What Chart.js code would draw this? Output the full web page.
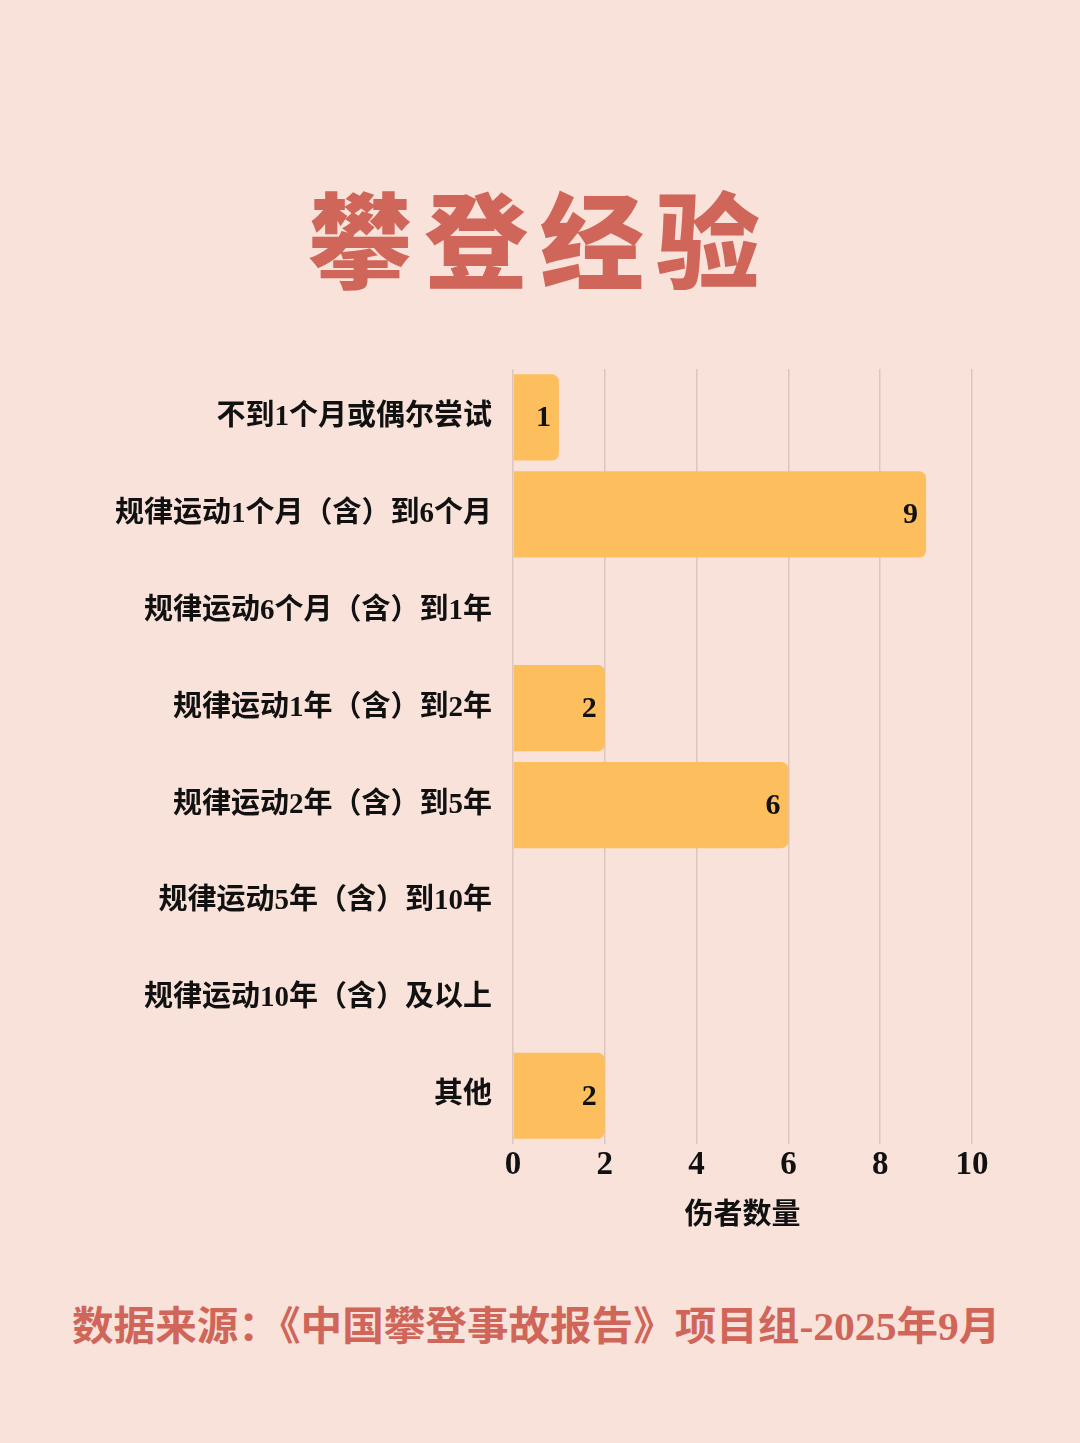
<!DOCTYPE html>
<html lang="zh">
<head>
<meta charset="utf-8">
<script src="https://cdn.jsdelivr.net/npm/chart.js@4"></script>
<style>
  html, body { margin: 0; padding: 0; }
  body { width: 1080px; height: 1443px; background: #F8E2D9; position: relative; overflow: hidden; }
  .titulo {
    position: absolute; left: 0; width: 1080px; top: 184px; text-align: center;
    font-family: "Noto Sans CJK SC", sans-serif; font-weight: 900; font-size: 104px;
    color: #D0655A; letter-spacing: 12px; line-height: 1; margin: 0;
  }
  .fonte {
    position: absolute; left: 72px; top: 1307px; white-space: nowrap;
    font-family: "Liberation Serif", "Noto Sans CJK SC", serif; font-weight: 700; font-size: 40px;
    color: #D0655A; line-height: 1; transform-origin: left top;
  }
  #grafico { position: absolute; left: 0; top: 0; }
</style>
</head>
<body>
<h1 class="titulo">攀登经验</h1>
<div class="fonte" id="fonte">数据来源：《中国攀登事故报告》项目组-2025年9月</div>
<div id="grafico" style="width:1080px;height:1443px;"><canvas id="myChart"></canvas></div>
<script>
// categorias do eixo y
const categorias = [
  '不到1个月或偶尔尝试',
  '规律运动1个月（含）到6个月',
  '规律运动6个月（含）到1年',
  '规律运动1年（含）到2年',
  '规律运动2年（含）到5年',
  '规律运动5年（含）到10年',
  '规律运动10年（含）及以上',
  '其他'
];

// valores (伤者数量)
const valores = [1, 9, 0, 2, 6, 0, 0, 2];

// ticks do eixo x
const ticksX = [0, 2, 4, 6, 8, 10];

const eixoX = '伤者数量';

const fonteTexto = '"Liberation Serif", "Noto Sans CJK SC", serif';

// ajusta a largura do rodapé
const fonte = document.getElementById('fonte');
fonte.style.transform = 'scaleX(' + (928 / fonte.offsetWidth) + ')';

// plugin simples para escrever o valor dentro da barra
const rotulos = {
  id: 'rotulos',
  afterDatasetsDraw(chart) {
    const ctx = chart.ctx;
    const meta = chart.getDatasetMeta(0);
    ctx.save();
    ctx.font = 'bold 30px ' + fonteTexto;
    ctx.fillStyle = '#111';
    ctx.textAlign = 'right';
    ctx.textBaseline = 'middle';
    meta.data.forEach((barra, i) => {
      if (!valores[i]) return;
      ctx.fillText(String(valores[i]), barra.x - 8, barra.y + 1);
    });
    ctx.restore();
  }
};

const ctx = document.getElementById('myChart');

new Chart(ctx, {
  type: 'bar',
  data: {
    labels: categorias,
    datasets: [{
      data: valores,
      backgroundColor: '#FDBE5E',
      borderRadius: { topLeft: 0, bottomLeft: 0, topRight: 7, bottomRight: 7 },
      borderSkipped: false,
      categoryPercentage: 0.89,
      barPercentage: 1
    }]
  },
  options: {
    indexAxis: 'y',
    responsive: true,
    maintainAspectRatio: false,
    animation: false,
    layout: { padding: { top: 369, right: 108, bottom: 205, left: 0 } },
    plugins: { legend: { display: false }, tooltip: { enabled: false } },
    scales: {
      x: {
        min: 0, max: 10,
        afterBuildTicks(scale) { scale.ticks = ticksX.map(v => ({ value: v })); },
        grid: { color: '#DCC6BD', lineWidth: 1.5, drawTicks: false },
        border: { display: false },
        ticks: { color: '#111', padding: 5, font: { family: fonteTexto, size: 33, weight: 'bold', lineHeight: 1 } },
        title: { display: true, text: eixoX, color: '#111', padding: { top: 12, bottom: 4 }, font: { family: fonteTexto, size: 29, weight: 'bold' } }
      },
      y: {
        afterFit(scale) { scale.width = 513; },
        grid: { display: false, drawTicks: false },
        border: { display: false },
        ticks: { color: '#111', padding: 21, font: { family: fonteTexto, size: 29, weight: 'bold' } }
      }
    }
  },
  plugins: [rotulos]
});
</script>
</body>
</html>
